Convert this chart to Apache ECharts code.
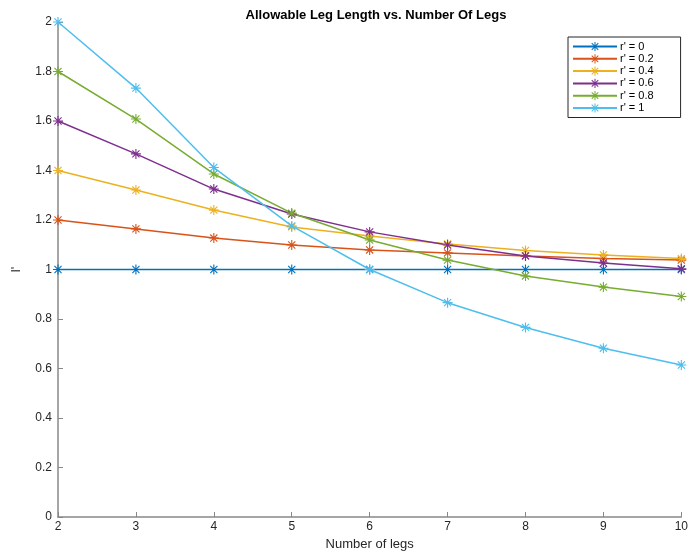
<!DOCTYPE html>
<html>
<head>
<meta charset="utf-8">
<script src="https://cdn.jsdelivr.net/npm/echarts@6/dist/echarts.min.js"></script>
<style>
html,body{margin:0;padding:0;background:#fff;}
#chart{width:691px;height:557px;}
</style>
</head>
<body>
<div id="chart"></div>
<script>
const legs = [2, 3, 4, 5, 6, 7, 8, 9, 10];
const seriesNames = ["r' = 0", "r' = 0.2", "r' = 0.4", "r' = 0.6", "r' = 0.8", "r' = 1"];
const r0  = [1, 1, 1, 1, 1, 1, 1, 1, 1];
const r02 = [1.2, 1.164, 1.127, 1.099, 1.079, 1.067, 1.055, 1.044, 1.038];
const r04 = [1.4, 1.321, 1.240, 1.172, 1.135, 1.103, 1.077, 1.059, 1.044];
const r06 = [1.6, 1.467, 1.325, 1.224, 1.152, 1.099, 1.055, 1.026, 1.003];
const r08 = [1.8, 1.608, 1.386, 1.228, 1.119, 1.038, 0.974, 0.929, 0.891];
const r1  = [2.0, 1.733, 1.412, 1.176, 1.0, 0.866, 0.766, 0.682, 0.614];
const allValues = [r0, r02, r04, r06, r08, r1];
const colors = ['#0072BD', '#D95319', '#EDB120', '#7E2F8E', '#77AC30', '#4DBEEE'];

const asterisk = 'path://M9,1L11,1L11,19L9,19Z M1,9L19,9L19,11L1,11Z M4.3,2.9L17.1,15.7L15.7,17.1L2.9,4.3Z M17.1,4.3L4.3,17.1L2.9,15.7L15.7,2.9Z';
const font = '"Liberation Sans", Arial, Helvetica, sans-serif';

const chart = echarts.init(document.getElementById('chart'), null, {renderer: 'canvas'});
chart.setOption({
  animation: false,
  color: colors,
  title: {
    text: 'Allowable Leg Length vs. Number Of Legs',
    left: 371, textAlign: 'center', top: 4,
    textStyle: {fontFamily: font, fontSize: 13, fontWeight: 'bold', color: '#000'}
  },
  legend: {
    orient: 'vertical',
    left: 568, top: 37,
    padding: [4, 27, 4, 4],
    itemGap: 1.3,
    itemWidth: 44, itemHeight: 11.5,
    borderColor: '#262626', borderWidth: 1,
    backgroundColor: '#fff',
    textStyle: {fontFamily: font, fontSize: 11, color: '#000', padding: [0, 0, 0, -2]},
    data: seriesNames
  },
  grid: {left: 58, right: 7, top: 22, bottom: 40, containLabel: false},
  xAxis: {
    type: 'value', min: 2, max: 10, interval: 1,
    name: 'Number of legs', nameLocation: 'middle', nameGap: 21,
    nameTextStyle: {fontFamily: font, fontSize: 13, color: '#262626'},
    axisLine: {show: true, onZero: false, lineStyle: {color: '#888', width: 1.5}},
    axisTick: {show: true, inside: true, length: 5, lineStyle: {color: '#888'}},
    axisLabel: {fontFamily: font, fontSize: 12, color: '#262626', margin: 4},
    splitLine: {show: false}
  },
  yAxis: {
    type: 'value', min: 0, max: 2, interval: 0.2,
    name: "l'", nameLocation: 'middle', nameGap: 35, nameRotate: 90,
    nameTextStyle: {fontFamily: font, fontSize: 13, color: '#262626'},
    axisLine: {show: true, lineStyle: {color: '#888', width: 1.5}},
    axisTick: {show: true, inside: true, length: 5, lineStyle: {color: '#888'}},
    axisLabel: {fontFamily: font, fontSize: 12, color: '#262626', margin: 6},
    splitLine: {show: false}
  },
  series: allValues.map((vals, i) => ({
    name: seriesNames[i],
    type: 'line',
    data: legs.map((x, j) => [x, vals[j]]),
    symbol: asterisk,
    symbolSize: 10,
    showAllSymbol: true,
    lineStyle: {width: 1.5, color: colors[i]},
    itemStyle: {color: colors[i]},
    clip: false
  }))
});
</script>
</body>
</html>
